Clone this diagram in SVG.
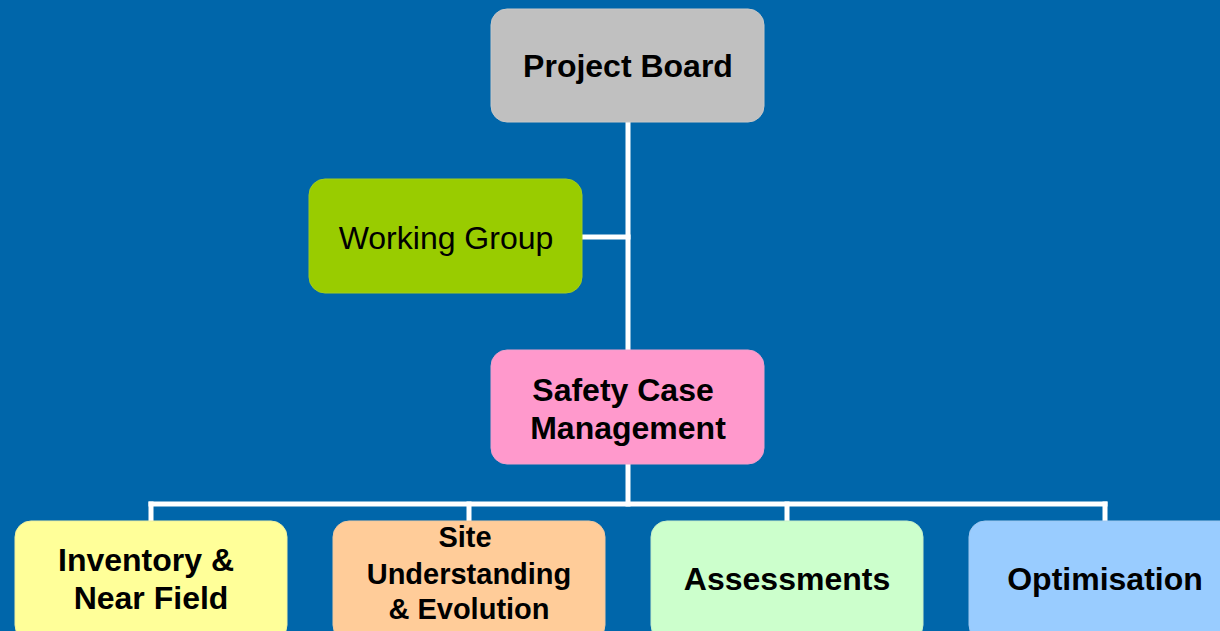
<svg xmlns="http://www.w3.org/2000/svg" width="1220" height="631" viewBox="0 0 1220 631">
<style>
.box{stroke-width:1}
.t{font-family:"Liberation Sans",Arial,sans-serif;font-size:32px;fill:#000;text-anchor:middle}
.b{font-weight:bold}
.s{font-size:29px}
.ln{stroke:#fff;stroke-width:5;fill:none;stroke-linecap:square}
</style>
<rect x="0" y="0" width="1220" height="631" fill="#0066AA"/>
<g id="connectors">
<path class="ln" d="M628,122 V350"/>
<path class="ln" d="M582,237 H628"/>
<path class="ln" d="M628,464 V504"/>
<path class="ln" d="M151,504 H1105"/>
<path class="ln" d="M151,504 V521 M469,504 V521 M787,504 V521 M1105,504 V521"/>
</g>
<g id="project-board">
<rect class="box" x="491" y="9" width="273" height="113" rx="16" fill="#C0C0C0" stroke="#C8C8C8"/>
<text class="t b" x="628" y="77">Project Board</text>
</g>
<g id="working-group">
<rect class="box" x="309" y="179" width="273" height="114" rx="16" fill="#99CC00" stroke="#A0CC20"/>
<text class="t" x="446" y="249">Working Group</text>
</g>
<g id="safety-case">
<rect class="box" x="491" y="350" width="273" height="114" rx="16" fill="#FF99CC" stroke="#F0A0CC"/>
<text class="t b" x="623" y="401">Safety Case</text>
<text class="t b" x="628" y="439">Management</text>
</g>
<g id="inventory">
<rect class="box" x="15" y="521" width="272" height="120" rx="16" fill="#FFFF99" stroke="#F0F0A0"/>
<text class="t b" x="146" y="571">Inventory &amp;</text>
<text class="t b" x="151" y="609">Near Field</text>
</g>
<g id="site">
<rect class="box" x="333" y="521" width="272" height="120" rx="16" fill="#FFCC99" stroke="#F0C8A0"/>
<text class="t b s" x="465" y="547">Site</text>
<text class="t b s" x="469" y="584">Understanding</text>
<text class="t b s" x="469" y="619">&amp; Evolution</text>
</g>
<g id="assessments">
<rect class="box" x="651" y="521" width="272" height="120" rx="16" fill="#CCFFCC" stroke="#C8F0C8"/>
<text class="t b" x="787" y="590">Assessments</text>
</g>
<g id="optimisation">
<rect class="box" x="969" y="521" width="272" height="120" rx="16" fill="#99CCFF" stroke="#A0C8F0"/>
<text class="t b" x="1105" y="590">Optimisation</text>
</g>
</svg>
